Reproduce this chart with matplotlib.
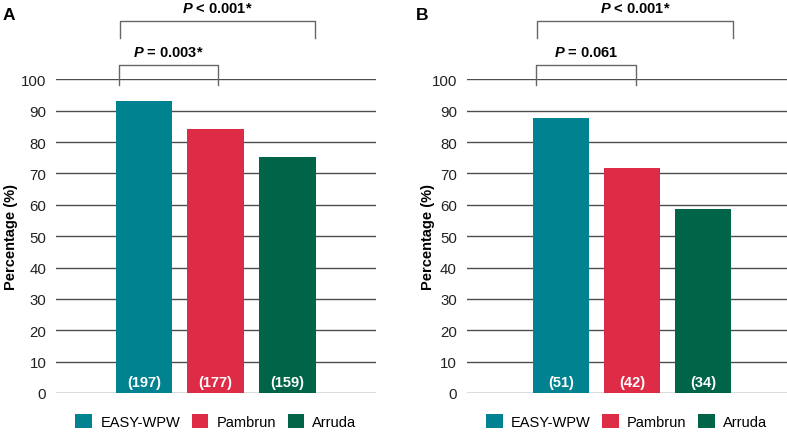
import matplotlib
matplotlib.use("Agg")
import matplotlib.pyplot as plt
from matplotlib.patches import Patch

plt.rcParams['font.family'] = ['Liberation Sans', 'DejaVu Sans']
plt.rcParams['mathtext.fontset'] = 'custom'
plt.rcParams['mathtext.it'] = 'Liberation Sans:italic:bold'
plt.rcParams['mathtext.rm'] = 'Liberation Sans:bold'
plt.rcParams['mathtext.bf'] = 'Liberation Sans:bold'

# ---- data ----
categories = ["EASY-WPW", "Pambrun", "Arruda"]
colors = ["#008291", "#DE2C46", "#006448"]
values_A = [93.0, 84.1, 75.1]
values_B = [87.8, 71.7, 58.7]
counts_A = ["(197)", "(177)", "(159)"]
counts_B = ["(51)", "(42)", "(34)"]
p_short_A = r"$P$ = 0.003*"
p_long_A = r"$P$ < 0.001*"
p_short_B = r"$P$ = 0.061"
p_long_B = r"$P$ < 0.001*"
yticks = list(range(0, 101, 10))

W, H = 787, 435
fig = plt.figure(figsize=(W / 100, H / 100), dpi=100)

def px_axes(left, right, top, bottom):
    return fig.add_axes([left / W, (H - bottom) / H, (right - left) / W, (bottom - top) / H])

grid_color = "#4d4d4d"
bracket_color = "#666666"

def draw_panel(ax, values, counts, p_short, p_long, xlim, short_span, long_span,
               label, label_x, ylabel_x):
    x = list(range(len(values)))
    ax.set_axisbelow(True)
    ax.bar(x, values, width=0.785, color=colors, zorder=3)
    ax.set_xlim(*xlim)
    ax.set_ylim(0, 100)
    ax.set_yticks(yticks)
    ax.yaxis.grid(True, color=grid_color, linewidth=1.0)
    ax.set_xticks([])
    for s in ax.spines.values():
        s.set_visible(False)
    ax.tick_params(axis='y', length=0, pad=7, labelsize=10.8, colors="#222222")
    ax.set_ylabel("Percentage (%)", fontsize=10.5, fontweight='bold')
    ax.yaxis.set_label_coords(ylabel_x, 0.5)
    for xi, c in zip(x, counts):
        ax.text(xi, 3.6, c, ha='center', va='center', color='white',
                fontsize=10.5, fontweight='bold', zorder=4)
    # short bracket
    x0, x1 = short_span
    ax.plot([x0, x0, x1, x1], [98.3, 104.6, 104.6, 98.3], color=bracket_color,
            lw=1.0, clip_on=False)
    ax.text((x0 + x1) / 2, 108.8, p_short, ha='center', va='center',
            fontsize=10.5, fontweight='bold', clip_on=False)
    # long bracket
    x0, x1 = long_span
    ax.plot([x0, x0, x1, x1], [113.3, 118.5, 118.5, 113.3], color=bracket_color,
            lw=1.0, clip_on=False)
    ax.text((x0 + x1) / 2, 122.8, p_long, ha='center', va='center',
            fontsize=10.5, fontweight='bold', clip_on=False)
    fig.text(label_x / W, (H - 16) / H, label, fontsize=12.5, fontweight='bold',
             ha='left', va='center')
    handles = [Patch(facecolor=c, edgecolor='none') for c in colors]
    ax.legend(handles, categories, ncol=3, loc='center',
              bbox_to_anchor=(0.5, -0.09), frameon=False, fontsize=10.5,
              handlelength=1.15, handleheight=1.15, handletextpad=0.55,
              columnspacing=0.8, borderaxespad=0)

axA = px_axes(56, 376, 80.3, 394)
draw_panel(axA, values_A, counts_A, p_short_A, p_long_A,
           (-1.224, 3.235), (-0.345, 1.03), (-0.33, 2.39), "A", 3,
           (18 - 56) / 320)

axB = px_axes(466.7, 786.7, 80.3, 394)
draw_panel(axB, values_B, counts_B, p_short_B, p_long_B,
           (-1.334, 3.177), (-0.36, 1.05), (-0.345, 2.42), "B", 416,
           (435 - 466.7) / 320)

fig.savefig("out.png", dpi=100, facecolor='white')
